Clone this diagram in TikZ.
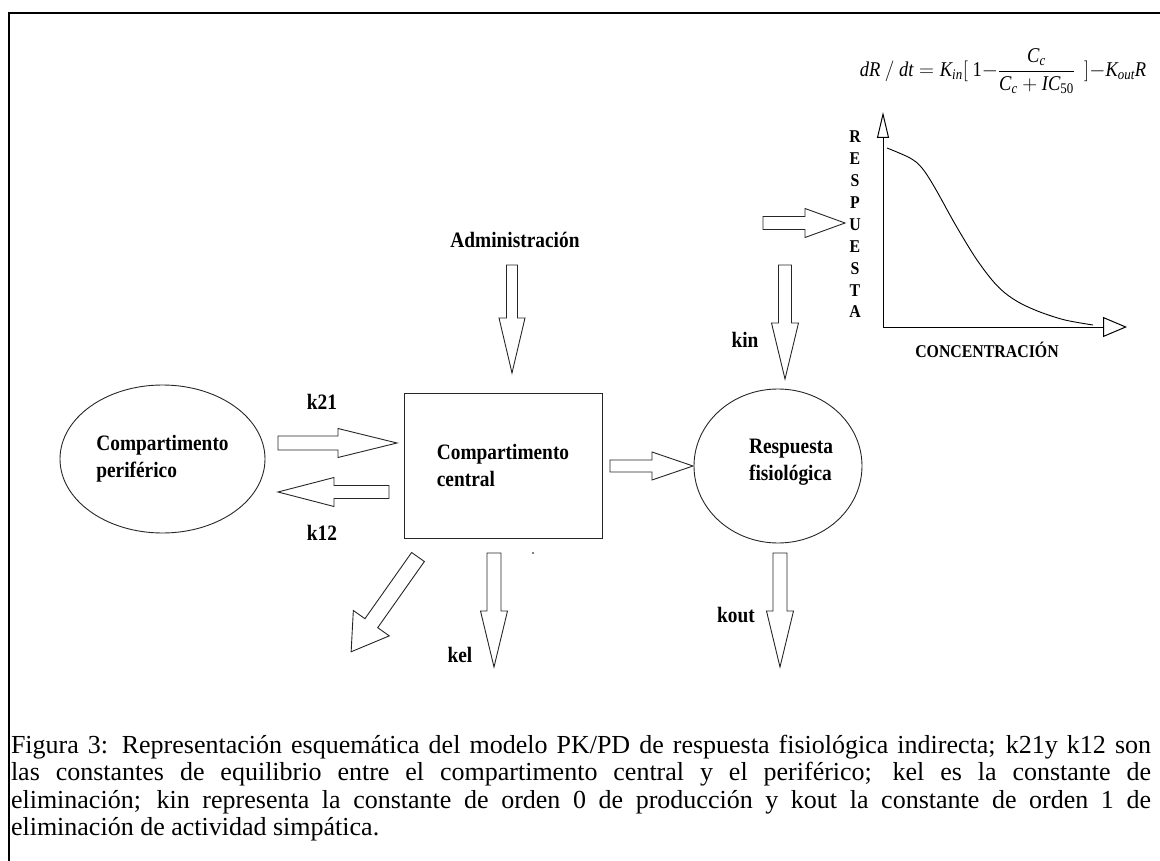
\documentclass[tikz,border=0pt]{standalone}
\usepackage{amsmath}
\usepackage{fontspec}
\setmainfont{Liberation Serif}[FakeStretch=0.88]
\newfontfamily\capfont{Liberation Serif}
\usepackage{tikz}
\usetikzlibrary{arrows.meta, shapes.geometric, calc}

\begin{document}
\begin{tikzpicture}[
    x=1pt, y=-1pt,
    every node/.style={inner sep=0pt, outer sep=0pt},
    lbl/.style={font=\fontsize{22}{27}\selectfont\bfseries, align=left},
    axlbl/.style={font=\fontsize{18}{21.9}\selectfont\bfseries, align=center},
    capt/.style={font=\capfont\fontsize{26}{27.4}\selectfont, text width=1140pt, align=justify},
    comp/.style={draw=black!85, line width=0.9pt},
    frame/.style={draw=black, line width=2.6pt},
    axis/.style={draw=black, line width=1pt},
    blockline/.style={draw=black!85, line width=0.9pt, line join=miter},
    pics/blockarr/.style args={#1/#2/#3/#4}{code={
      \draw[blockline] (0,-#3) -- ({#1-#2},-#3) -- ({#1-#2},-#4) -- (#1,0)
        -- ({#1-#2},#4) -- ({#1-#2},#3) -- (0,#3) -- cycle;
    }}
  ]
    \useasboundingbox (0,0) rectangle (1160,861);

    % outer frame (open to the right and below)
    \draw[frame] (1160,13) -- (9,13) -- (9,861);

    % compartments
    \node[comp, ellipse, minimum width=205pt, minimum height=148pt, lbl] (perif) at (162.5,459)
      {Compartimento\\periférico};
    \node[comp, rectangle, minimum width=198pt, minimum height=145pt, lbl] (central) at (503,465.5)
      {Compartimento\\central};
    \node[comp, ellipse, minimum width=168pt, minimum height=154pt] (resp) at (778,466) {};
    \node[lbl] (resptxt) at (791,462) {Respuesta\\fisiológica};

    % rate constants
    \node[lbl] (adm) at (515,240) {Administración};
    \node[lbl] (k21) at (322,402) {k21};
    \node[lbl] (k12) at (322,533) {k12};
    \node[lbl] (kin) at (745,340) {kin};
    \node[lbl] (kel) at (460,655) {kel};
    \node[lbl] (kout) at (736,615) {kout};

    % block arrows
    \pic (admarr) at (512,265) [rotate=-90] {blockarr=108/55/5.5/13};
    \pic (kinarr) at (785,265) [rotate=-90] {blockarr=114/56/6.5/13.5};
    \pic (kelarr) at (494,553) [rotate=-90] {blockarr=114/56/7/13.5};
    \pic (koutarr) at (780,553) [rotate=-90] {blockarr=114/56/7/13.5};
    \pic (lossarr) at (418,557) [rotate=-125.2] {blockarr=116/35/7.8/22};
    \pic (k21arr) at (278,443) {blockarr=119/59/7/14.5};
    \pic (k12arr) at (389,492) [rotate=180] {blockarr=111/56/6.5/14.5};
    \pic (effarr) at (610,466) {blockarr=83/41/6/14};
    \pic (inarr) at (763,223) {blockarr=82/40/6.5/14.5};
    \fill (533,553) circle (0.9pt);

    % response curve
    \coordinate (orig) at (883,327);
    \coordinate (ytip) at (883,112);
    \coordinate (xtip) at (1127,327);
    \draw[axis, -{Triangle[open, length=26pt, width=12pt]}] (orig) -- (ytip);
    \draw[axis, -{Triangle[open, length=24pt, width=20pt]}] (orig) -- (xtip);
    \draw[line width=0.9pt] plot[smooth, tension=0.55] coordinates
      {(887,148) (910,158) (922,168) (935,188) (955,224) (975,257) (992,280)
       (1005,293) (1020,303) (1040,312) (1065,320) (1093,325)};
    \node[axlbl] (ylbl) at (855,224.5) {R\\E\\S\\P\\U\\E\\S\\T\\A};
    \node[axlbl] (xlbl) at (987,350) {CONCENTRACIÓN};

    \node[font=\fontsize{21}{25}\selectfont] (eqn) at (1003,71)
      {$\textit{dR}\ /\ \textit{dt} = \textit{K}_{\textit{in}}[\ \textrm{1}{-}\dfrac{\textit{C}_{\textit{c}}}{\textit{C}_{\textit{c}}+\textit{IC}_{\textrm{50}}}\ \ ]{-}\textit{K}_{\textit{out}}\textit{R}$};

    % caption
    \node[capt, anchor=north west] (caption) at (11,735)
      {\tolerance=10000\hbadness=10000 Figura 3: Representación esquemática del modelo PK/PD de respuesta fisiológica indirecta; k21y k12 son\linebreak
       las constantes de equilibrio entre el compartimento central y el periférico; kel es la constante de\linebreak
       eliminación; kin representa la constante de orden 0 de producción y kout la constante de orden 1 de\linebreak
       eliminación de actividad simpática.};
  \end{tikzpicture}
\end{document}
